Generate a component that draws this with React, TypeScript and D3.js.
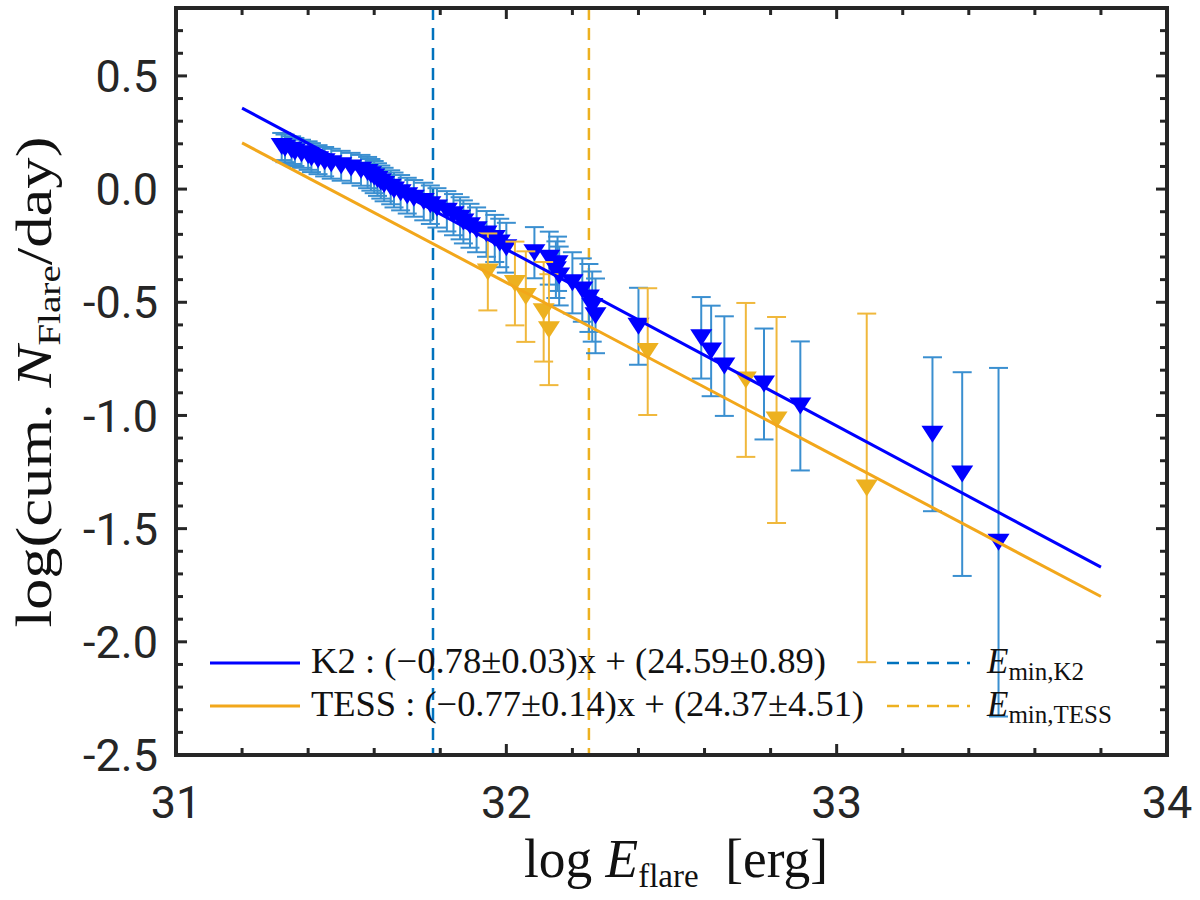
import { useEffect, useRef } from "react"
import * as d3 from "d3"

// K2 cumulative flare frequency (sorted by energy)
const k2Energy = [
  31.32, 31.33, 31.35, 31.36, 31.38, 31.4, 31.41, 31.43, 31.45, 31.47, 31.5, 31.53, 31.56, 31.58,
  31.59, 31.6, 31.61, 31.62, 31.63, 31.65, 31.66, 31.68, 31.7, 31.72, 31.75, 31.77, 31.79, 31.82,
  31.84, 31.86, 31.87, 31.89, 31.91, 31.94, 31.965, 31.98, 32.0, 32.085, 32.13, 32.155, 32.15,
  32.16, 32.2, 32.23, 32.25, 32.26, 32.27, 32.4, 32.59, 32.62, 32.66, 32.78, 32.89, 33.29, 33.38,
  33.49,
]
const k2LogN = [
  0.188, 0.18, 0.172, 0.164, 0.156, 0.148, 0.139, 0.13, 0.121, 0.112, 0.103, 0.093, 0.083, 0.073,
  0.063, 0.053, 0.042, 0.031, 0.02, 0.008, -0.004, -0.016, -0.029, -0.041, -0.055, -0.069, -0.083,
  -0.098, -0.113, -0.129, -0.145, -0.162, -0.18, -0.198, -0.218, -0.238, -0.259, -0.281, -0.305,
  -0.33, -0.356, -0.384, -0.414, -0.446, -0.481, -0.519, -0.56, -0.606, -0.657, -0.715, -0.782,
  -0.861, -0.958, -1.083, -1.259, -1.56,
]
const k2Err = [
  0.06, 0.061, 0.061, 0.062, 0.062, 0.063, 0.064, 0.064, 0.065, 0.066, 0.066, 0.067, 0.068, 0.069,
  0.07, 0.071, 0.072, 0.073, 0.074, 0.075, 0.077, 0.078, 0.079, 0.081, 0.083, 0.085, 0.087, 0.089,
  0.091, 0.093, 0.095, 0.097, 0.099, 0.101, 0.104, 0.107, 0.11, 0.113, 0.117, 0.12, 0.125, 0.13,
  0.135, 0.14, 0.15, 0.155, 0.165, 0.17, 0.18, 0.2, 0.22, 0.245, 0.285, 0.34, 0.45, 0.77,
]

// TESS cumulative flare frequency
const tessEnergy = [31.944, 32.026, 32.059, 32.113, 32.129, 32.428, 32.725, 32.818, 33.091]
const tessLogN = [-0.366, -0.417, -0.475, -0.542, -0.621, -0.718, -0.843, -1.02, -1.32]
const tessErr = [0.17, 0.185, 0.2, 0.22, 0.245, 0.28, 0.34, 0.455, 0.77]

// power-law fits (end points)
const k2FitX = [31.2, 33.8]
const k2FitY = [0.358, -1.67]
const tessFitX = [31.2, 33.8]
const tessFitY = [0.204, -1.8]

const eMinK2 = 31.778
const eMinTess = 32.25

const xTicks = [31, 32, 33, 34]
const yTicks = [-2.5, -2.0, -1.5, -1.0, -0.5, 0.0, 0.5]

const K2_LINE = "#0000ff"
const K2_BAR = "#3a8fd0"
const K2_DASH = "#0072bd"
const TESS_LINE = "#f2a71b"
const TESS_MARK = "#edb120"
const TESS_BAR = "#f0b83c"
const AXIS = "#262626"
const SERIF = "'Liberation Serif', 'DejaVu Serif', serif"

export default function App() {
  const svgRef = useRef<SVGSVGElement | null>(null)

  useEffect(() => {
    if (!svgRef.current) return
    const svg = d3.select(svgRef.current)
    svg.selectAll("*").remove()

    const left = 176
    const right = 1167
    const top = 8
    const bottom = 755

    const x = d3.scaleLinear().domain([31, 34]).range([left, right])
    const y = d3.scaleLinear().domain([-2.5, 0.8]).range([bottom, top])

    // E_min vertical lines
    const vlines = [
      { v: eMinK2, c: K2_DASH },
      { v: eMinTess, c: TESS_MARK },
    ]
    vlines.forEach((d) => {
      svg
        .append("line")
        .attr("x1", x(d.v))
        .attr("x2", x(d.v))
        .attr("y1", top)
        .attr("y2", bottom)
        .attr("stroke", d.c)
        .attr("stroke-width", 2.5)
        .attr("stroke-dasharray", "12,8")
    })

    const tri = "M-11,-8.5L11,-8.5L0,8.5Z"

    // error bars + markers
    const drawSeries = (energy: number[], logN: number[], err: number[], barColor: string, markColor: string) => {
      const g = svg.append("g")
      energy.forEach((e, i) => {
        const cx = x(e)
        const y1 = y(logN[i] + err[i])
        const y2 = y(logN[i] - err[i])
        g.append("line").attr("x1", cx).attr("x2", cx).attr("y1", y1).attr("y2", y2)
          .attr("stroke", barColor).attr("stroke-width", 2)
        ;[y1, y2].forEach((yy) => {
          g.append("line").attr("x1", cx - 9.5).attr("x2", cx + 9.5).attr("y1", yy).attr("y2", yy)
            .attr("stroke", barColor).attr("stroke-width", 2)
        })
      })
      g.selectAll("path.mk")
        .data(energy)
        .enter()
        .append("path")
        .attr("class", "mk")
        .attr("d", tri)
        .attr("transform", (e, i) => `translate(${x(e)},${y(logN[i])})`)
        .attr("fill", markColor)
    }

    drawSeries(k2Energy, k2LogN, k2Err, K2_BAR, K2_LINE)
    drawSeries(tessEnergy, tessLogN, tessErr, TESS_BAR, TESS_MARK)

    // fit lines
    const fits = [
      { xs: k2FitX, ys: k2FitY, c: K2_LINE },
      { xs: tessFitX, ys: tessFitY, c: TESS_LINE },
    ]
    fits.forEach((f) => {
      const pts: [number, number][] = f.xs.map((v, i) => [x(v), y(f.ys[i])])
      svg
        .append("path")
        .attr("d", d3.line()(pts))
        .attr("fill", "none")
        .attr("stroke", f.c)
        .attr("stroke-width", 3)
    })

    // legend
    const leg = svg.append("g")
    const legRows = [
      { y: 663, c: K2_LINE, dc: K2_DASH, label: "K2 : (\u22120.78\u00B10.03)x + (24.59\u00B10.89)", len: 515, sub: "min,K2" },
      { y: 706, c: TESS_LINE, dc: TESS_MARK, label: "TESS : (\u22120.77\u00B10.14)x + (24.37\u00B14.51)", len: 553, sub: "min,TESS" },
    ]
    legRows.forEach((r) => {
      leg.append("line").attr("x1", 210).attr("x2", 300).attr("y1", r.y).attr("y2", r.y)
        .attr("stroke", r.c).attr("stroke-width", 3)
      leg.append("text")
        .attr("x", 311)
        .attr("y", r.y + 10)
        .attr("font-family", SERIF)
        .attr("font-size", 35)
        .attr("fill", "#111")
        .attr("textLength", r.len)
        .attr("lengthAdjust", "spacingAndGlyphs")
        .text(r.label)
      leg.append("line").attr("x1", 887).attr("x2", 970).attr("y1", r.y).attr("y2", r.y)
        .attr("stroke", r.dc).attr("stroke-width", 2.5).attr("stroke-dasharray", "12,8")
      const t = leg.append("text")
        .attr("x", 987)
        .attr("y", r.y + 10)
        .attr("font-family", SERIF)
        .attr("font-size", 35)
        .attr("fill", "#111")
      t.append("tspan").attr("font-style", "italic").text("E")
      t.append("tspan").attr("font-size", 25).attr("dy", 7).text(r.sub)
    })

    // frame
    svg
      .append("rect")
      .attr("x", left)
      .attr("y", top)
      .attr("width", right - left)
      .attr("height", bottom - top)
      .attr("fill", "none")
      .attr("stroke", AXIS)
      .attr("stroke-width", 4)

    // ticks (inward, all four sides)
    const tg = svg.append("g").attr("stroke", AXIS).attr("stroke-width", 3)
    const xMinor = d3.range(31, 34.001, 0.2)
    xMinor.forEach((v) => {
      const major = Math.abs(v - Math.round(v)) < 1e-6
      const len = major ? 11 : 7
      tg.append("line").attr("x1", x(v)).attr("x2", x(v)).attr("y1", bottom).attr("y2", bottom - len)
      tg.append("line").attr("x1", x(v)).attr("x2", x(v)).attr("y1", top).attr("y2", top + len)
    })
    const yMinor = d3.range(-2.5, 0.801, 0.1)
    yMinor.forEach((v) => {
      const major = Math.abs(v * 2 - Math.round(v * 2)) < 1e-6
      const len = major ? 11 : 7
      tg.append("line").attr("x1", left).attr("x2", left + len).attr("y1", y(v)).attr("y2", y(v))
      tg.append("line").attr("x1", right).attr("x2", right - len).attr("y1", y(v)).attr("y2", y(v))
    })

    // tick labels
    svg
      .append("g")
      .selectAll("text")
      .data(xTicks)
      .enter()
      .append("text")
      .attr("x", (d) => x(d))
      .attr("y", 818)
      .attr("text-anchor", "middle")
      .attr("font-family", "Roboto, sans-serif")
      .attr("font-size", 45)
      .attr("fill", AXIS)
      .text((d) => String(d))

    svg
      .append("g")
      .selectAll("text")
      .data(yTicks)
      .enter()
      .append("text")
      .attr("x", 158)
      .attr("y", (d) => y(d))
      .attr("dy", "0.36em")
      .attr("text-anchor", "end")
      .attr("font-family", "Roboto, sans-serif")
      .attr("font-size", 45)
      .attr("fill", AXIS)
      .text((d) => d.toFixed(1))

    // axis titles
    const xl = svg
      .append("text")
      .attr("x", 676)
      .attr("y", 877)
      .attr("text-anchor", "middle")
      .attr("font-family", SERIF)
      .attr("font-size", 55)
      .attr("fill", "#111")
      .attr("textLength", 304)
      .attr("lengthAdjust", "spacingAndGlyphs")
    xl.append("tspan").text("log ")
    xl.append("tspan").attr("font-style", "italic").text("E")
    xl.append("tspan").attr("font-size", 34).attr("dy", 10).text("flare")
    xl.append("tspan").attr("dy", -10).text("\u00A0\u00A0[erg]")

    const yl = svg
      .append("text")
      .attr("transform", "translate(51,382) rotate(-90)")
      .attr("text-anchor", "middle")
      .attr("font-family", SERIF)
      .attr("font-size", 51)
      .attr("fill", "#111")
      .attr("textLength", 491)
      .attr("lengthAdjust", "spacingAndGlyphs")
    yl.append("tspan").text("log(cum. ")
    yl.append("tspan").attr("font-style", "italic").text("N")
    yl.append("tspan").attr("font-size", 32).attr("dy", 9).text("Flare")
    yl.append("tspan").attr("dy", -9).text("/day)")
  }, [])

  return (
    <svg
      ref={svgRef}
      width={1200}
      height={900}
      style={{ position: "absolute", left: 0, top: 0, background: "#fff" }}
    ></svg>
  )
}
